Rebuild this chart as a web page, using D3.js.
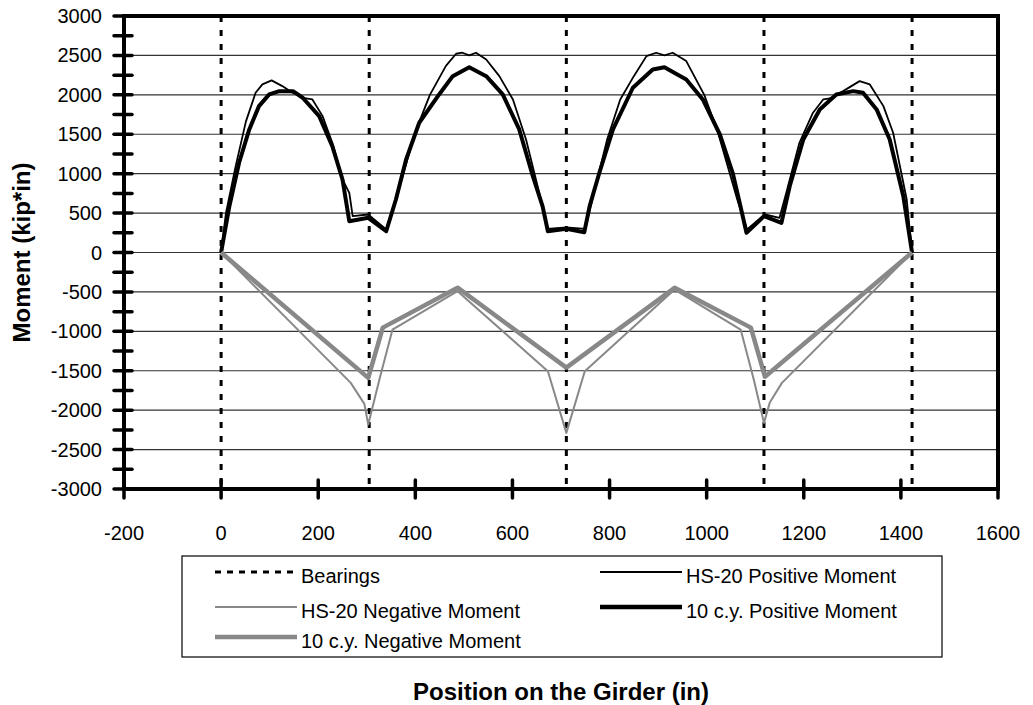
<!DOCTYPE html>
<html>
<head>
<meta charset="utf-8">
<script src="https://cdn.jsdelivr.net/npm/d3@7"></script>
<style>
  body { margin: 0; background: #fff; }
  svg { display: block; font-family: "Liberation Sans", Arial, sans-serif; }
</style>
</head>
<body>
<svg id="chart"></svg>
<script>
// bearing positions (in)
let bearings = [0, 305, 711, 1118, 1423];

// HS-20 positive moment envelope
let hs20PosX = [0, 10, 30, 51, 71, 85, 104, 126, 147, 175, 188, 209, 229, 250, 264, 271, 303, 340, 360, 400, 430, 463, 484, 497, 511, 525, 546, 573, 601, 628, 655, 672, 711, 750, 768, 795, 822, 850, 876, 896, 913, 930, 958, 995, 1023, 1063, 1083, 1120, 1150, 1164, 1191, 1219, 1240, 1254, 1281, 1315, 1336, 1364, 1384, 1412, 1423];
let hs20PosY = [0, 503, 1095, 1660, 2026, 2132, 2183, 2111, 2026, 1954, 1941, 1730, 1392, 926, 757, 461, 482, 292, 672, 1530, 2000, 2367, 2521, 2534, 2500, 2534, 2449, 2237, 1941, 1434, 760, 300, 320, 300, 760, 1434, 1941, 2237, 2491, 2534, 2500, 2534, 2428, 2000, 1530, 672, 292, 482, 440, 757, 1392, 1773, 1941, 1954, 2047, 2174, 2132, 1857, 1519, 672, 0];

// 10 c.y. positive moment envelope
let cyPosX = [0, 17, 37, 58, 78, 99, 120, 148, 168, 202, 229, 250, 264, 303, 340, 360, 381, 408, 449, 477, 511, 546, 580, 614, 642, 662, 673, 711, 748, 759, 779, 807, 848, 889, 913, 958, 992, 1027, 1054, 1068, 1082, 1118, 1154, 1171, 1199, 1233, 1267, 1302, 1322, 1350, 1377, 1405, 1423];
let cyPosY = [0, 587, 1138, 1561, 1857, 2005, 2047, 2047, 1963, 1730, 1349, 926, 397, 440, 270, 672, 1180, 1646, 2005, 2237, 2351, 2237, 2005, 1561, 968, 588, 270, 300, 258, 588, 1011, 1561, 2090, 2322, 2351, 2195, 1941, 1500, 1000, 630, 250, 460, 376, 841, 1434, 1815, 2005, 2047, 2026, 1815, 1434, 714, 0];

// HS-20 negative moment envelope
let hs20NegX = [0, 267, 295, 303, 326, 353, 487, 673, 711, 749, 934, 1070, 1097, 1118, 1130, 1155, 1423];
let hs20NegY = [0, -1654, -1920, -2183, -1612, -977, -491, -1506, -2288, -1506, -470, -977, -1612, -2161, -1904, -1654, 0];

// 10 c.y. negative moment envelope
let cyNegX = [0, 303, 333, 487, 711, 934, 1091, 1120, 1423];
let cyNegY = [0, -1590, -953, -446, -1461, -448, -953, -1575, 0];

let xTicks = [-200, 0, 200, 400, 600, 800, 1000, 1200, 1400, 1600];
let yTicks = [-3000, -2500, -2000, -1500, -1000, -500, 0, 500, 1000, 1500, 2000, 2500, 3000];

let legendItems = [
  { name: "Bearings", color: "#000", width: 3, dash: "6,6", col: 0, row: 0 },
  { name: "HS-20 Positive Moment", color: "#000", width: 2, dash: null, col: 1, row: 0 },
  { name: "HS-20 Negative Moment", color: "#888", width: 2, dash: null, col: 0, row: 1 },
  { name: "10 c.y. Positive Moment", color: "#000", width: 4.5, dash: null, col: 1, row: 1 },
  { name: "10 c.y. Negative Moment", color: "#888", width: 4.5, dash: null, col: 0, row: 2 }
];

function drawChart() {
  let w = 1033, h = 705;
  let svg = d3.select("#chart").attr("width", w).attr("height", h);

  let x = d3.scaleLinear().domain([-200, 1600]).range([124, 998]);
  let y = d3.scaleLinear().domain([-3000, 3000]).range([489, 16]);

  // gridlines
  svg.append("g")
    .selectAll("line")
    .data(yTicks.filter(d => d > -3000 && d < 3000))
    .enter().append("line")
    .attr("x1", x(-200)).attr("x2", x(1600))
    .attr("y1", d => y(d)).attr("y2", d => y(d))
    .attr("stroke", "#333").attr("stroke-width", 1.2);

  // bearings
  svg.append("g")
    .selectAll("line")
    .data(bearings)
    .enter().append("line")
    .attr("x1", d => x(d)).attr("x2", d => x(d))
    .attr("y1", y(3000)).attr("y2", y(-3000))
    .attr("stroke", "#000").attr("stroke-width", 3)
    .attr("stroke-dasharray", "6,8");

  let line = d3.line().x(d => x(d[0])).y(d => y(d[1]));
  let series = [
    { xs: hs20PosX, ys: hs20PosY, color: "#000", width: 1.8 },
    { xs: hs20NegX, ys: hs20NegY, color: "#888", width: 2 },
    { xs: cyPosX, ys: cyPosY, color: "#000", width: 4 },
    { xs: cyNegX, ys: cyNegY, color: "#888", width: 4.5 }
  ];
  svg.append("g")
    .selectAll("path")
    .data(series)
    .enter().append("path")
    .attr("d", s => line(s.xs.map((v, i) => [v, s.ys[i]])))
    .attr("fill", "none")
    .attr("stroke", s => s.color)
    .attr("stroke-width", s => s.width)
    .attr("stroke-linejoin", "round");

  // frame
  svg.append("rect")
    .attr("x", x(-200)).attr("y", y(3000))
    .attr("width", x(1600) - x(-200)).attr("height", y(-3000) - y(3000))
    .attr("fill", "none").attr("stroke", "#000").attr("stroke-width", 4);

  // y ticks (major + minor every 250)
  svg.append("g")
    .selectAll("line")
    .data(d3.range(-3000, 3001, 250))
    .enter().append("line")
    .attr("x1", x(-200) - 10).attr("x2", x(-200) + 8)
    .attr("y1", d => y(d)).attr("y2", d => y(d))
    .attr("stroke", "#000").attr("stroke-width", 3.5).attr("stroke-linecap", "round");

  svg.append("g")
    .selectAll("line")
    .data(xTicks)
    .enter().append("line")
    .attr("x1", d => x(d)).attr("x2", d => x(d))
    .attr("y1", y(-3000) - 9).attr("y2", y(-3000) + 9)
    .attr("stroke", "#000").attr("stroke-width", 3.5).attr("stroke-linecap", "round");

  // tick labels
  svg.append("g")
    .selectAll("text")
    .data(yTicks)
    .enter().append("text")
    .attr("x", 102).attr("y", d => y(d))
    .attr("dy", "0.35em")
    .attr("text-anchor", "end")
    .attr("font-size", 20)
    .text(d => d);

  svg.append("g")
    .selectAll("text")
    .data(xTicks)
    .enter().append("text")
    .attr("x", d => x(d)).attr("y", 533)
    .attr("dy", "0.35em")
    .attr("text-anchor", "middle")
    .attr("font-size", 20)
    .text(d => d);

  // axis titles
  svg.append("text")
    .attr("transform", "translate(22," + y(0) + ") rotate(-90)")
    .attr("text-anchor", "middle")
    .attr("dy", "0.35em")
    .attr("font-size", 24).attr("font-weight", "bold")
    .text("Moment (kip*in)");

  svg.append("text")
    .attr("x", (x(-200) + x(1600)) / 2).attr("y", 700)
    .attr("text-anchor", "middle")
    .attr("font-size", 24).attr("font-weight", "bold")
    .text("Position on the Girder (in)");

  // legend
  let lg = svg.append("g");
  lg.append("rect")
    .attr("x", 182).attr("y", 556).attr("width", 760).attr("height", 101)
    .attr("fill", "#fff").attr("stroke", "#000").attr("stroke-width", 1.2);

  let rowY = [572, 607, 637];
  let colX = [215, 600];
  let items = lg.selectAll("g.item")
    .data(legendItems)
    .enter().append("g");
  items.append("line")
    .attr("x1", d => colX[d.col]).attr("x2", d => colX[d.col] + 82)
    .attr("y1", d => rowY[d.row]).attr("y2", d => rowY[d.row])
    .attr("stroke", d => d.color).attr("stroke-width", d => d.width)
    .attr("stroke-dasharray", d => d.dash);
  items.append("text")
    .attr("x", d => colX[d.col] + 86).attr("y", d => rowY[d.row] + 11)
    .attr("font-size", 20)
    .text(d => d.name);
}

window.onload = function() {
  drawChart();
};
</script>
</body>
</html>
